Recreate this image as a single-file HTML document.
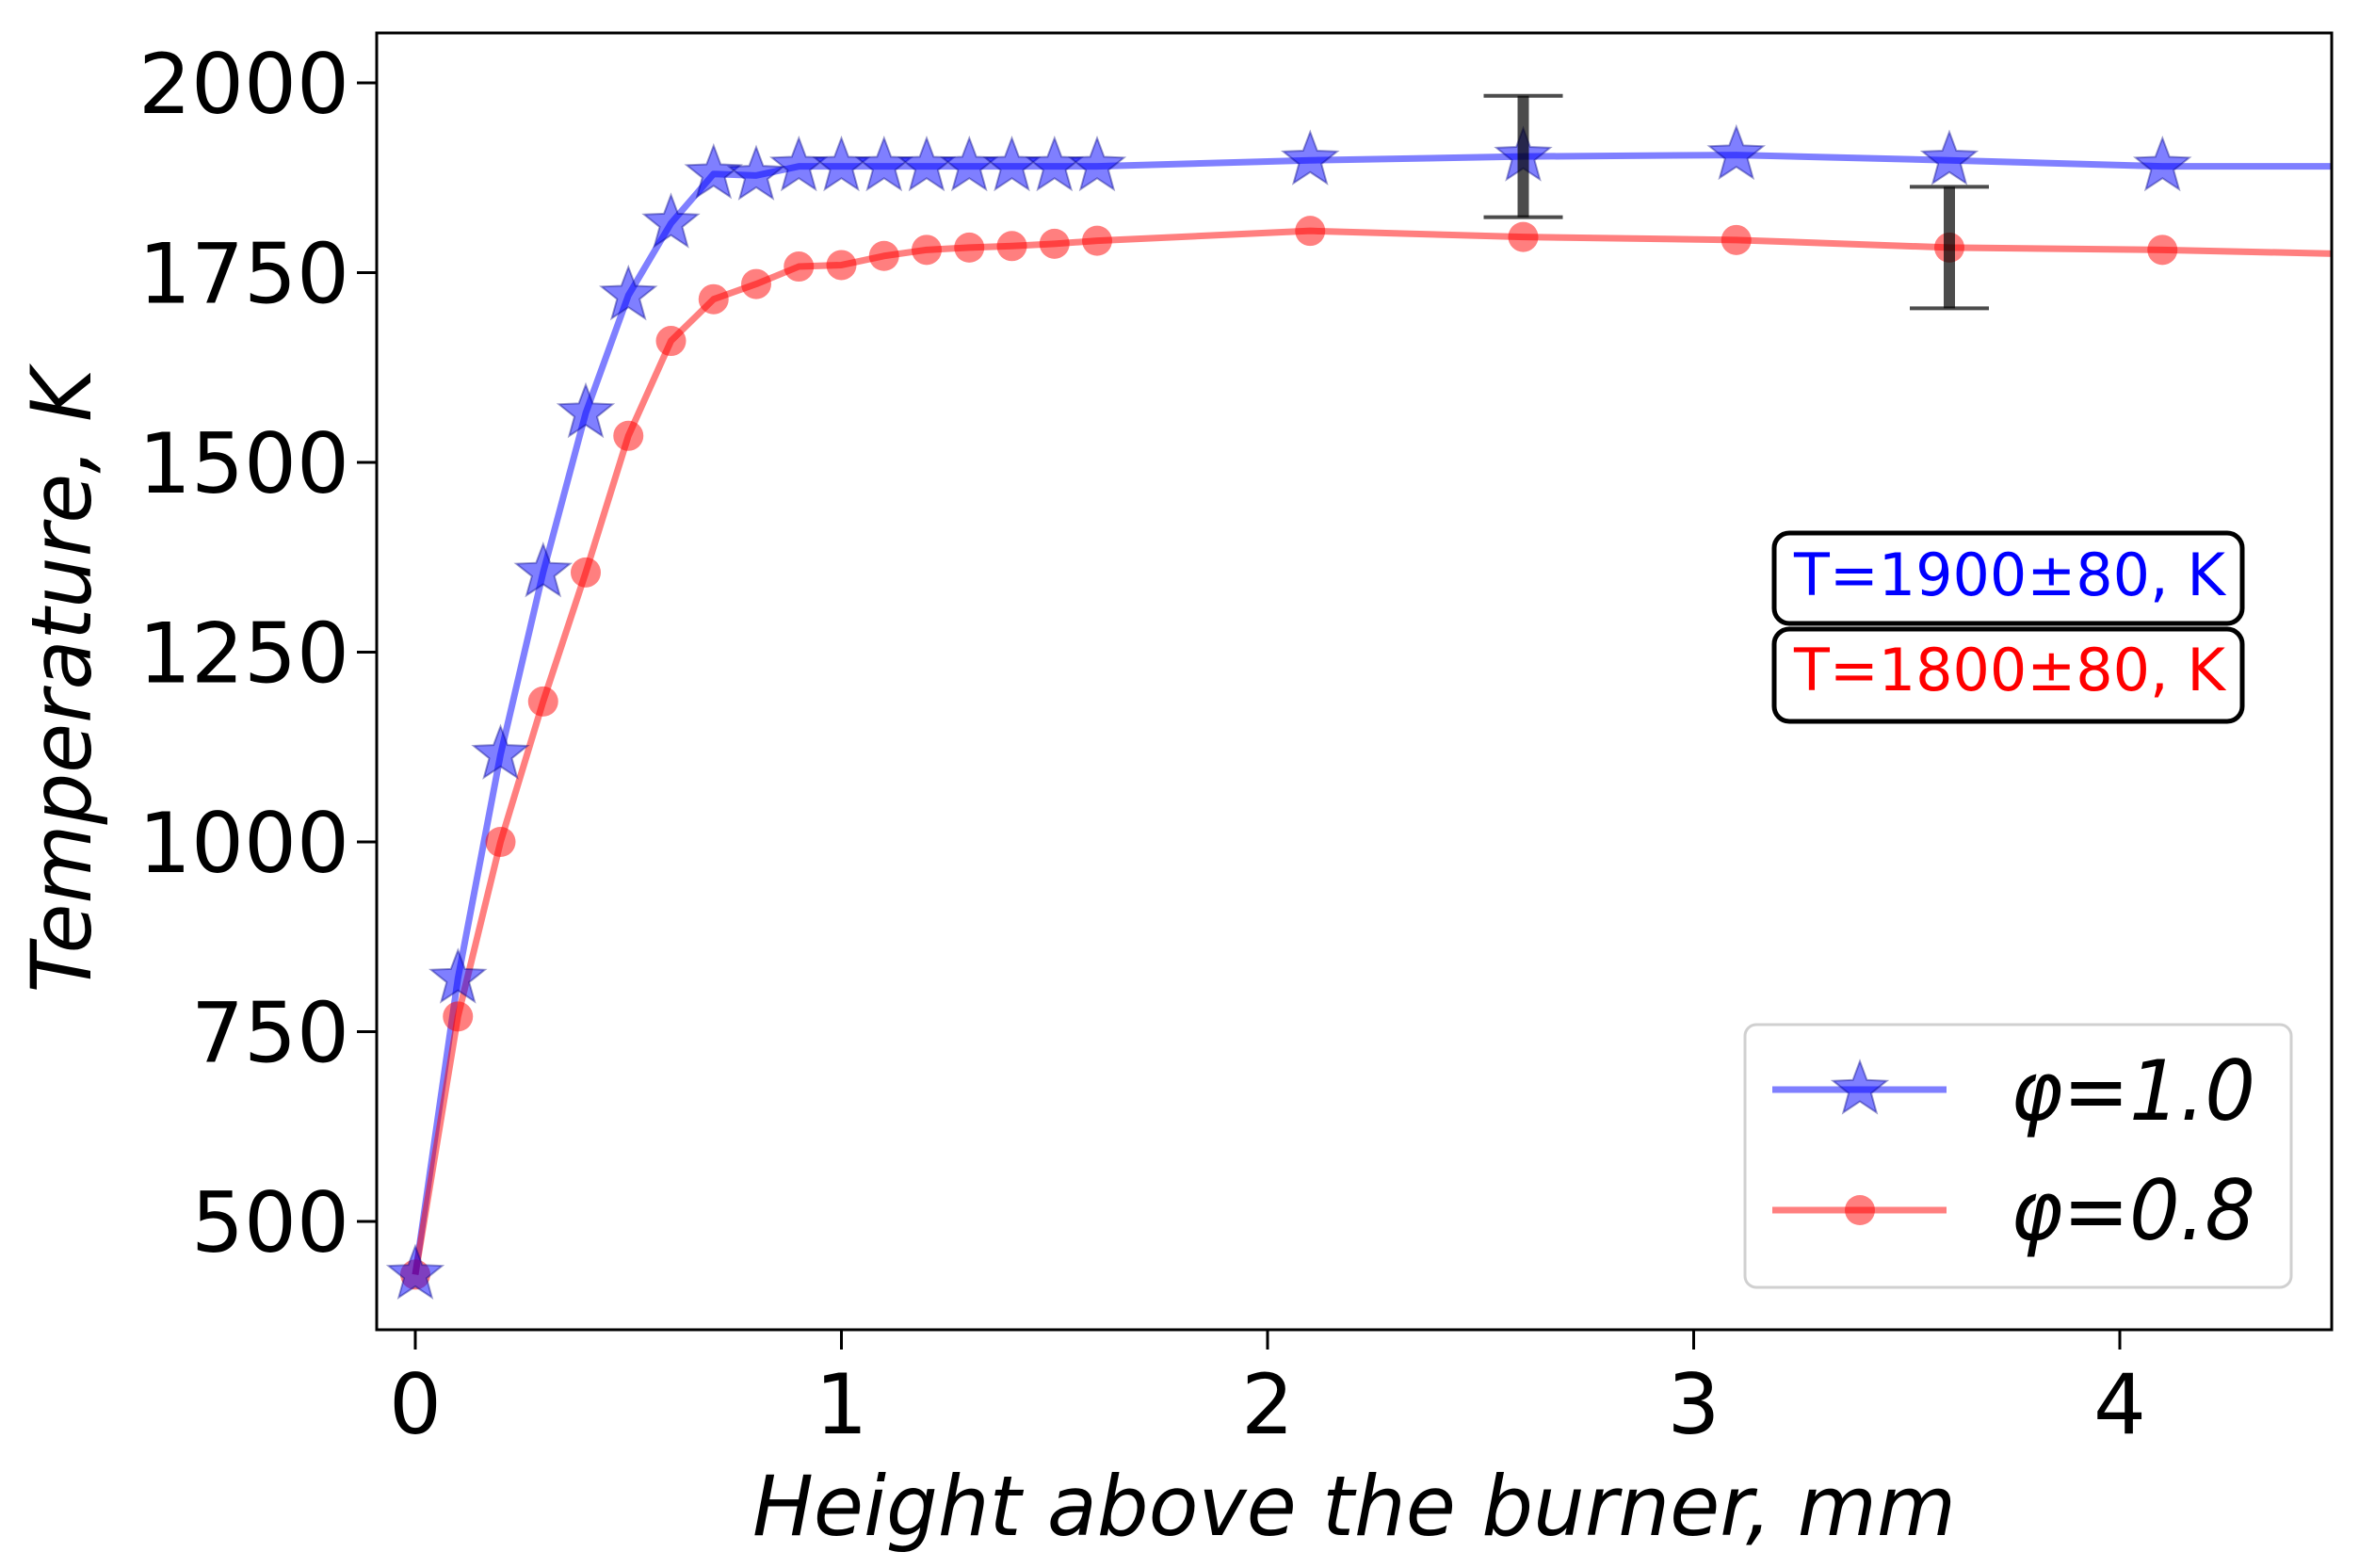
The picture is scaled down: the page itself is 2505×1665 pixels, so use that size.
<!DOCTYPE html>
<html><head><meta charset="utf-8"><style>
html,body{margin:0;padding:0;background:#fff;}
svg{display:block;font-family:"DejaVu Sans","Liberation Sans",sans-serif;}
</style></head><body>
<svg id="chart" width="2505" height="1665" viewBox="0 0 2505 1665" xmlns="http://www.w3.org/2000/svg">
<rect x="0" y="0" width="2505" height="1665" fill="#fff"/>
<g id="series"></g>
<rect x="400" y="35" width="2076" height="1377" fill="none" stroke="#000" stroke-width="3"/>
<g id="axes"></g>
<text x="1438" y="1630" font-size="88" font-style="italic" text-anchor="middle" textLength="1278" lengthAdjust="spacingAndGlyphs">Height above the burner, mm</text>
<text transform="translate(96,723) rotate(-90)" font-size="88" font-style="italic" text-anchor="middle" textLength="663" lengthAdjust="spacingAndGlyphs">Temperature, K</text>
<g>
<rect x="1884" y="566" width="497" height="96" rx="16" fill="#fff" stroke="#000" stroke-width="5"/>
<text x="1905" y="632" font-size="62" fill="#0000ff" textLength="458" lengthAdjust="spacingAndGlyphs">T=1900±80, K</text>
</g>
<g>
<rect x="1884" y="668" width="497" height="98" rx="16" fill="#fff" stroke="#000" stroke-width="5"/>
<text x="1905" y="733" font-size="62" fill="#ff0000" textLength="458" lengthAdjust="spacingAndGlyphs">T=1800±80, K</text>
</g>
<g>
<rect x="1853" y="1088" width="580" height="279" rx="12" fill="#fff" fill-opacity="0.8" stroke="#d0d0d0" stroke-width="3"/>
<g>
<line x1="1882" y1="1157" x2="2067" y2="1157" stroke="#0000ff" stroke-opacity="0.5" stroke-width="7"/>
<g id="legstar"></g>
<text x="2135" y="1189" font-size="88" font-style="italic" textLength="260" lengthAdjust="spacingAndGlyphs">φ=1.0</text>
</g>
<g>
<line x1="1882" y1="1285" x2="2067" y2="1285" stroke="#ff0000" stroke-opacity="0.5" stroke-width="7"/>
<circle cx="1975" cy="1285" r="16" fill="#ff0000" fill-opacity="0.5"/>
<text x="2135" y="1316" font-size="88" font-style="italic" textLength="260" lengthAdjust="spacingAndGlyphs">φ=0.8</text>
</g>
</g>
</svg>
<script>
const xBlue = [0,0.1,0.2,0.3,0.4,0.5,0.6,0.7,0.8,0.9,1.0,1.1,1.2,1.3,1.4,1.5,1.6,2.1,2.6,3.1,3.6,4.1,4.5];
const yBlue = [430,820,1115,1355,1565,1720,1815,1880,1878,1890,1890,1890,1890,1890,1890,1890,1890,1898,1903,1905,1898,1890,1890];
const xRed = [0,0.1,0.2,0.3,0.4,0.5,0.6,0.7,0.8,0.9,1.0,1.1,1.2,1.3,1.4,1.5,1.6,2.1,2.6,3.1,3.6,4.1,4.5];
const yRed = [430,770,1000,1185,1355,1535,1660,1715,1735,1758,1760,1772,1780,1783,1785,1788,1792,1805,1797,1793,1783,1780,1775];
const errX = [2.6,3.6];
const errY = [1903,1783];
const errSize = [80,80];
const xTicks = [0,1,2,3,4];
const yTicks = [500,750,1000,1250,1500,1750,2000];

const NS = "http://www.w3.org/2000/svg";
const sx = v => 441 + v * 452.5;
const sy = v => 88 + (2000 - v) * 0.806;
function mk(tag, attrs, parent){const e=document.createElementNS(NS,tag);for(const k in attrs)e.setAttribute(k,attrs[k]);parent.appendChild(e);return e;}
function starPts(cx,cy,R){const r=R*0.42;let p=[];for(let i=0;i<10;i++){const a=-Math.PI/2+i*Math.PI/5;const rr=i%2?r:R;p.push((cx+rr*Math.cos(a)).toFixed(1)+","+(cy+rr*Math.sin(a)).toFixed(1));}return p.join(" ");}
const series = document.getElementById('series');
const axes = document.getElementById('axes');

// lines
const lb = mk('polyline',{points:xBlue.map((x,i)=>sx(x)+","+sy(yBlue[i])).join(" "),fill:"none",stroke:"#0000ff","stroke-opacity":"0.5","stroke-width":"7","stroke-linejoin":"round"},series);


const lr = mk('polyline',{points:xRed.map((x,i)=>sx(x)+","+sy(yRed[i])).join(" "),fill:"none",stroke:"#ff0000","stroke-opacity":"0.5","stroke-width":"7","stroke-linejoin":"round"},series);


// red markers (last point has no marker)
for(let i=0;i<xRed.length-1;i++){
  const c = mk('circle',{cx:sx(xRed[i]),cy:sy(yRed[i]),r:16,fill:"#ff0000","fill-opacity":"0.5"},series);
  
  
}
for(let i=0;i<xBlue.length-1;i++){
  const s = mk('polygon',{points:starPts(sx(xBlue[i]),sy(yBlue[i]),30),fill:"#0000ff","fill-opacity":"0.5",stroke:"#000080","stroke-opacity":"0.4","stroke-width":"2"},series);
  
  
}
// error bars
for(let i=0;i<errX.length;i++){
  const g = mk('g',{stroke:"#000","stroke-opacity":"0.7"},series);
  
  
  const x=sx(errX[i]), y1=sy(errY[i]+errSize[i]), y2=sy(errY[i]-errSize[i]);
  mk('line',{x1:x,y1:y1,x2:x,y2:y2,"stroke-width":"12"},g);
  mk('line',{x1:x-42,y1:y1,x2:x+42,y2:y1,"stroke-width":"4"},g);
  mk('line',{x1:x-42,y1:y2,x2:x+42,y2:y2,"stroke-width":"4"},g);
}
// legend star
const ls = mk('polygon',{points:starPts(1975,1157,30),fill:"#0000ff","fill-opacity":"0.5",stroke:"#000080","stroke-opacity":"0.4","stroke-width":"2"},document.getElementById('legstar'));


// ticks
xTicks.forEach(t=>{
  const l = mk('line',{x1:sx(t),y1:1412,x2:sx(t),y2:1433,stroke:"#000","stroke-width":"3"},axes);
  
  
  const tx = mk('text',{x:sx(t),y:1522,"font-size":"88","text-anchor":"middle"},axes);
  tx.textContent = String(t);
  
  
});
yTicks.forEach(t=>{
  const l = mk('line',{x1:379,y1:sy(t),x2:400,y2:sy(t),stroke:"#000","stroke-width":"3"},axes);
  
  
  const tx = mk('text',{x:371,y:sy(t)+32,"font-size":"88","text-anchor":"end"},axes);
  tx.textContent = String(t);
  
  
});
</script>
</body></html>
